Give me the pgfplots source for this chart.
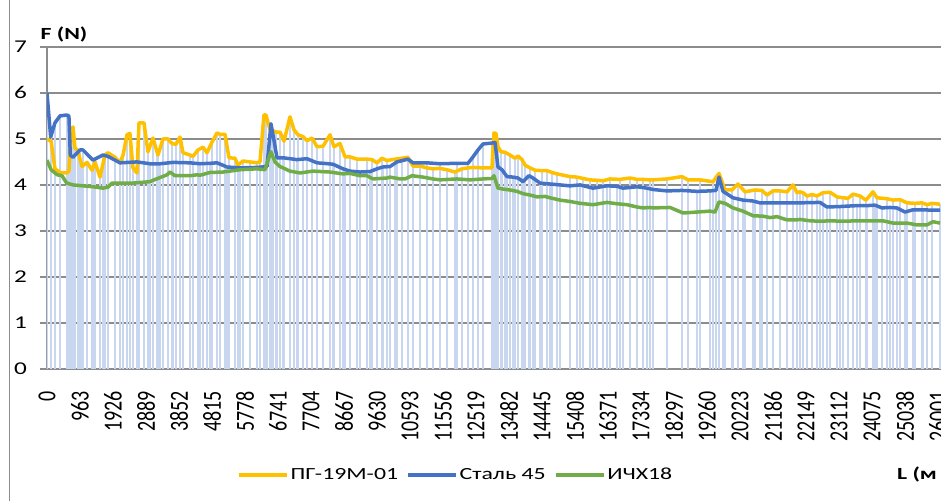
\documentclass[border=0pt]{standalone}
\usepackage{fontspec}
\setmainfont{Carlito}
\usepackage{graphicx}
\usepackage{pgfplots}
\usepackage{pgfplotstable}
\pgfplotsset{compat=1.18}
\definecolor{cY}{HTML}{FFC000}
\definecolor{cB}{HTML}{4472C4}
\definecolor{cG}{HTML}{70AD47}
\definecolor{cComb}{HTML}{C8D6EF}
\definecolor{cGrid}{HTML}{8C8C8C}

\pgfplotstableread{
L F
0 5.00
120 4.95
233 4.35
379 4.27
575 4.26
640 4.30
700 5.20
760 5.26
817 4.80
900 4.75
1021 4.40
1167 4.49
1313 4.32
1400 4.50
1547 4.17
1692 4.65
1780 4.70
1984 4.60
2130 4.48
2220 4.65
2334 5.09
2420 5.12
2509 4.37
2626 4.26
2685 5.35
2830 5.35
2947 4.72
3093 5.02
3210 4.72
3239 4.65
3385 5.00
3531 5.00
3648 4.90
3760 4.88
3881 5.04
3968 4.70
4173 4.65
4260 4.62
4406 4.76
4552 4.82
4669 4.70
4815 4.93
4961 5.13
5048 5.10
5194 5.10
5311 4.59
5486 4.58
5573 4.43
5719 4.52
5924 4.50
6128 4.48
6215 4.50
6332 5.52
6390 5.52
6507 5.20
6682 5.15
6799 5.15
6916 4.95
7091 5.48
7207 5.20
7324 5.09
7470 5.05
7587 4.96
7733 5.02
7879 4.83
8054 4.84
8258 5.09
8375 4.83
8550 4.90
8696 4.61
8842 4.61
9046 4.56
9338 4.56
9484 4.55
9629 4.48
9775 4.58
9921 4.53
10155 4.56
10359 4.58
10534 4.60
10680 4.41
10884 4.41
11088 4.37
11263 4.35
11468 4.36
11672 4.33
11905 4.28
12110 4.35
12285 4.37
12431 4.38
12722 4.37
12985 4.37
13043 5.13
13102 5.12
13160 4.83
13248 4.72
13364 4.71
13510 4.65
13656 4.58
13744 4.63
13861 4.55
13948 4.43
14094 4.37
14240 4.32
14444 4.31
14590 4.31
14736 4.27
14882 4.24
15261 4.18
15465 4.17
15640 4.14
15845 4.11
16049 4.10
16224 4.09
16428 4.13
16720 4.12
17012 4.15
17216 4.12
17391 4.12
17596 4.11
17683 4.11
18092 4.13
18529 4.18
18704 4.11
19055 4.11
19434 4.07
19609 4.25
19784 3.89
19988 3.89
20163 4.02
20368 3.85
20660 3.89
20864 3.88
21010 3.78
21185 3.87
21389 3.87
21593 3.85
21768 4.00
21885 3.83
21973 3.85
22060 3.83
22177 3.76
22323 3.79
22469 3.76
22644 3.83
22848 3.84
23052 3.74
23227 3.72
23373 3.71
23519 3.80
23723 3.76
23898 3.67
24103 3.85
24219 3.72
24511 3.70
24686 3.67
24891 3.68
25095 3.61
25328 3.60
25533 3.61
25678 3.57
25824 3.60
26058 3.58
}\yellow

\pgfplotstableread{
L F
0 6.00
108 5.04
233 5.35
379 5.50
575 5.52
640 5.50
680 4.65
759 4.60
963 4.76
1050 4.76
1342 4.54
1634 4.65
1780 4.62
2130 4.48
2626 4.50
3006 4.46
3297 4.46
3677 4.49
4173 4.48
4465 4.46
4756 4.47
4961 4.48
5252 4.39
5632 4.37
6128 4.38
6420 4.40
6536 5.33
6595 5.09
6711 4.59
6886 4.59
7295 4.55
7587 4.57
7879 4.48
8054 4.47
8345 4.45
8637 4.35
8842 4.30
9133 4.28
9425 4.29
9629 4.35
9804 4.39
10009 4.40
10213 4.50
10534 4.56
10680 4.48
11088 4.48
11468 4.46
11964 4.47
12285 4.47
12431 4.61
12577 4.76
12722 4.89
12985 4.91
13073 4.92
13160 4.39
13277 4.33
13423 4.18
13598 4.17
13744 4.15
13890 4.07
14065 4.20
14181 4.15
14386 4.04
14678 4.02
14969 4.00
15261 3.98
15553 4.00
15932 3.93
16341 3.98
16633 3.97
16808 3.93
17216 3.96
17508 3.93
17683 3.90
18092 3.87
18529 3.88
18967 3.86
19346 3.87
19521 3.88
19609 4.17
19726 3.86
20017 3.72
20309 3.67
20601 3.65
20805 3.61
21185 3.61
21593 3.61
21973 3.61
22556 3.62
22760 3.52
23140 3.53
23636 3.55
23928 3.55
24161 3.56
24365 3.50
24599 3.51
24803 3.50
25036 3.41
25270 3.46
25562 3.46
25824 3.45
26058 3.45
}\blue

\pgfplotstableread{
L F
0 4.54
120 4.33
300 4.22
438 4.20
575 4.04
759 4.00
1050 3.98
1342 3.96
1634 3.93
1780 3.95
1897 4.04
2509 4.04
3006 4.07
3093 4.10
3502 4.22
3589 4.28
3735 4.20
4173 4.20
4377 4.22
4465 4.21
4756 4.27
5136 4.28
5632 4.33
6128 4.35
6361 4.33
6536 4.72
6653 4.50
6799 4.40
7091 4.30
7383 4.26
7762 4.30
8258 4.28
8637 4.24
8842 4.25
9133 4.20
9338 4.20
9513 4.13
9921 4.15
10009 4.17
10301 4.13
10447 4.13
10651 4.20
10972 4.17
11263 4.13
11468 4.11
11964 4.13
12343 4.11
12722 4.13
12985 4.14
13043 4.20
13160 3.93
13306 3.91
13510 3.89
13715 3.86
13890 3.81
14094 3.78
14298 3.74
14532 3.75
14678 3.72
14969 3.67
15261 3.64
15553 3.60
15932 3.57
16341 3.62
16633 3.59
16925 3.57
17216 3.52
17391 3.50
17596 3.51
17683 3.50
18179 3.51
18559 3.39
18967 3.41
19346 3.43
19492 3.41
19609 3.63
19784 3.60
20017 3.50
20309 3.43
20601 3.33
20893 3.32
21098 3.29
21301 3.31
21593 3.24
21885 3.24
21973 3.25
22264 3.22
22556 3.21
22848 3.22
23227 3.21
23636 3.22
24015 3.22
24394 3.22
24686 3.17
25095 3.17
25387 3.13
25678 3.13
25854 3.20
26058 3.17
}\green

\begin{document}
\begin{tikzpicture}
\begin{axis}[
  scale only axis,
  width=925.3pt, height=322pt,
  xmin=0, xmax=27000, ymin=0, ymax=7,
  axis x line*=bottom, axis y line*=left,
  x axis line style={draw=none},
  y axis line style={cGrid, line width=1.2pt},
  ymajorgrids, grid style={cGrid, line width=1.2pt},
  ytick={0,1,...,7},
  xtick={0,963,...,26001},
  scaled x ticks=false,
  tick align=outside,
  major tick length=7pt,
  ytick style={cGrid, line width=1.2pt},
  xtick style={draw=none},
  /pgf/number format/assume math mode=true,
  xticklabel={\scalebox{1}[1.3]{\pgfmathprintnumber[fixed,precision=0,1000 sep={}]{\tick}}},
  yticklabel={\scalebox{1.4}[1]{\pgfmathprintnumber[fixed,precision=0]{\tick}}},
  xticklabel style={rotate=90, anchor=east, inner sep=0pt, font=\fontsize{20}{20}\selectfont},
  yticklabel style={anchor=east, inner sep=0pt, font=\fontsize{18}{18}\selectfont},
  xticklabel shift=15pt,
  yticklabel shift=13pt,
  legend columns=3,
  legend style={at={(rel axis cs:0.2053,-0.329)}, anchor=west, draw=none, fill=none,
    font=\fontsize{17}{17}\selectfont, inner sep=0pt,
    nodes={inner sep=2pt},
    /tikz/every even column/.append style={column sep=6pt}},
  legend image code/.code={\draw[#1, line width=3.5pt] (0pt,0pt) -- (48pt,0pt);},
  line join=round,
]
\addplot[ycomb, cComb, line width=2.2pt, forget plot] table[x=L,y=F]{\blue};
\addplot[ycomb, cComb, line width=2.2pt, forget plot] table[x=L,y=F]{\yellow};
\addplot[cY, line width=3.5pt] table[x=L,y=F]{\yellow};
\addlegendentry{\scalebox{1.4}[1]{ПГ-19М-01}}
\addplot[cB, line width=3.5pt] table[x=L,y=F]{\blue};
\addlegendentry{\scalebox{1.4}[1]{Сталь 45}}
\addplot[cG, line width=3.5pt] table[x=L,y=F]{\green};
\addlegendentry{\scalebox{1.4}[1]{ИЧХ18}}
\coordinate (BL) at (axis cs:-1371,-2.87);
\coordinate (TR) at (axis cs:26087,8.02);
\coordinate (FB) at (axis cs:-1080,-2.87);
\coordinate (FT) at (axis cs:-1080,8.02);
\coordinate (FN) at (axis cs:496,7.26);
\coordinate (LM) at (axis cs:24800,-2.30);
\end{axis}
\draw[cGrid, line width=1pt] (FB) -- (FT);
\node[font=\bfseries\fontsize{17}{17}\selectfont, inner sep=0pt] at (FN) {\scalebox{1.4}[1]{F (N)}};
\node[font=\bfseries\fontsize{17}{17}\selectfont, inner sep=0pt, anchor=west] at (LM) {\scalebox{1.4}[1]{L (м}};
\pgfresetboundingbox
\path[use as bounding box] (BL) rectangle (TR);
\end{tikzpicture}
\end{document}
